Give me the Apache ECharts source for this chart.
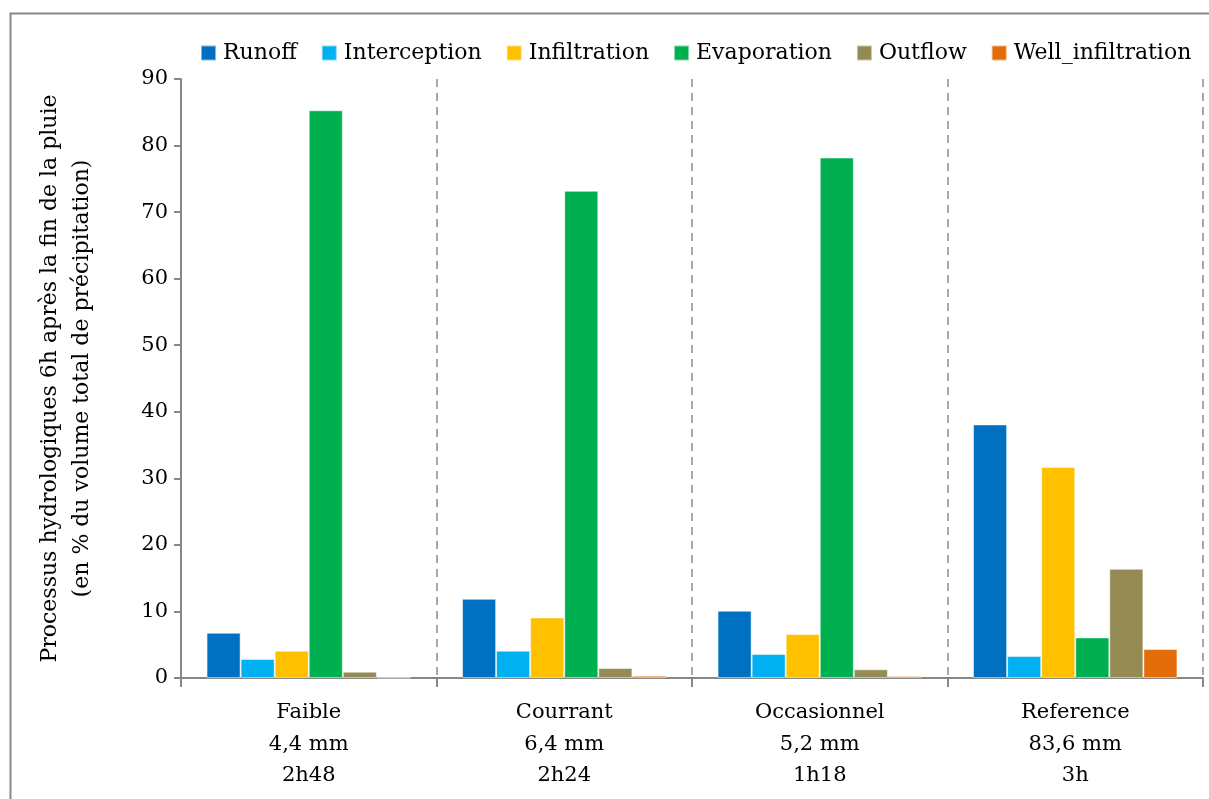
<!DOCTYPE html>
<html>
<head>
<meta charset="utf-8">
<script src="https://cdn.jsdelivr.net/npm/echarts@6/dist/echarts.min.js"></script>
<style>
html,body{margin:0;padding:0;background:#fff;}
#c{width:1209px;height:799px;}
</style>
</head>
<body>
<div id="c"></div>
<script>
const categories = ["Faible\n4,4 mm\n2h48", "Courrant\n6,4 mm\n2h24", "Occasionnel\n5,2 mm\n1h18", "Reference\n83,6 mm\n3h"];
const runoff = [6.8, 11.9, 10.1, 38.1];
const interception = [2.85, 4.1, 3.6, 3.3];
const infiltration = [4.1, 9.1, 6.6, 31.7];
const evaporation = [85.3, 73.2, 78.2, 6.1];
const outflow = [0.95, 1.5, 1.3, 16.4];
const wellInfiltration = [0.05, 0.35, 0.3, 4.35];
const yTicks = {min: 0, max: 90, interval: 10};

const seriesDefs = [
  ["Runoff", runoff, "#0070C0"],
  ["Interception", interception, "#00B0F0"],
  ["Infiltration", infiltration, "#FFC000"],
  ["Evaporation", evaporation, "#00B050"],
  ["Outflow", outflow, "#948A54"],
  ["Well_infiltration", wellInfiltration, "#E36C09"]
];

const font = "DejaVu Serif";
const chart = echarts.init(document.getElementById('c'), null, {renderer: 'canvas'});
chart.setOption({
  backgroundColor: '#fff',
  animation: false,
  graphic: [{
    type: 'rect', left: 8, top: 11, z: 100, silent: true,
    shape: {width: 1300, height: 900},
    style: {fill: 'none', stroke: '#878787', lineWidth: 2}
  }],
  legend: {
    left: 195, top: 37,
    itemWidth: 15, itemHeight: 15, itemGap: 24,
    icon: 'rect',
    textStyle: {fontFamily: font, fontSize: 22, color: '#000', padding: [0, 0, 0, 2]},
    data: seriesDefs.map(s => s[0])
  },
  grid: {left: 181, right: 6, top: 79, bottom: 121, containLabel: false},
  xAxis: {
    type: 'category',
    data: categories,
    axisLine: {lineStyle: {color: '#878787', width: 2}},
    axisTick: {show: true, length: 9, lineStyle: {color: '#878787', width: 2}},
    splitLine: {show: true, lineStyle: {color: '#8c8c8c', type: [8, 6], width: 1.5}},
    axisLabel: {fontFamily: font, fontSize: 21, color: '#000', lineHeight: 31.5, margin: 19}
  },
  yAxis: {
    type: 'value',
    min: yTicks.min, max: yTicks.max, interval: yTicks.interval,
    name: 'Processus hydrologiques 6h après la fin de la pluie\n(en % du volume total de précipitation)',
    nameLocation: 'middle', nameGap: 83,
    nameTextStyle: {fontFamily: font, fontSize: 22, color: '#000', lineHeight: 32},
    axisLine: {show: true, lineStyle: {color: '#878787', width: 2}},
    axisTick: {show: true, length: 7, lineStyle: {color: '#878787', width: 2}},
    splitLine: {show: false},
    axisLabel: {fontFamily: font, fontSize: 21, color: '#000', margin: 13}
  },
  series: seriesDefs.map(s => ({
    name: s[0], type: 'bar', data: s[1],
    barGap: '0%', barCategoryGap: '20%',
    itemStyle: {color: s[2], borderColor: 'rgba(255,255,255,0.5)', borderWidth: 1}
  }))
});
</script>
</body>
</html>
